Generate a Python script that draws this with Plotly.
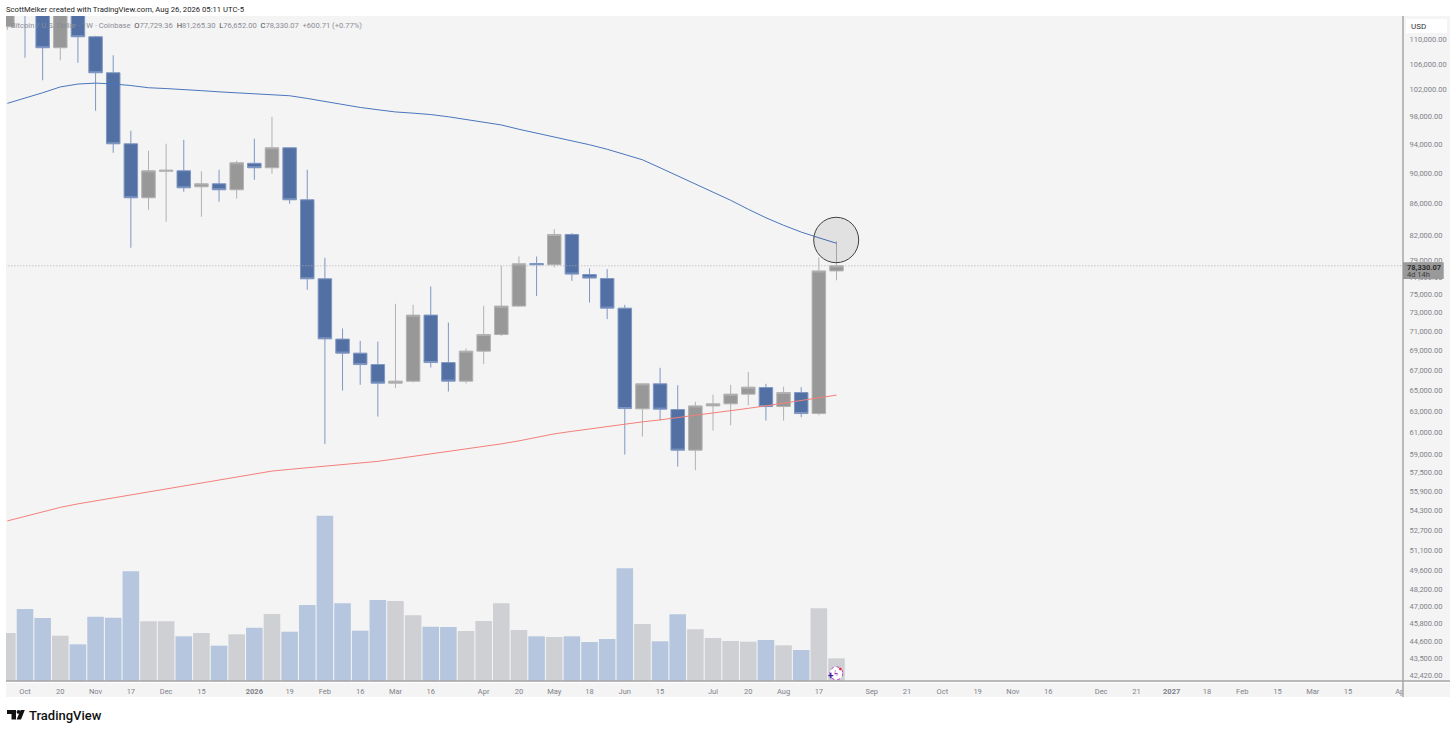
import pandas as pd
import plotly.graph_objects as go

# weekly bars, first one is the cut off candle at the left edge
dates = pd.date_range("2025-09-29", periods=48, freq="7D")

opens = [112081, 116711, 116711, 108607, 116000, 110413, 104612, 94044, 86736, 90250, 90317, 88179, 88575, 87783,
         91337, 90724, 93486, 86477, 76818, 70177, 68718, 67553, 65696, 65894, 72747, 67757, 65894, 68925, 70662,
         73735, 78600, 78447, 82094, 77315, 76853, 73514, 63213, 65628, 63146, 59418, 63494, 63689, 64622, 65263,
         63431, 64775, 62769, 77729.36]
highs = [114974, 116711, 116711, 116711, 116711, 110578, 107392, 95899, 93067, 94044, 94614, 90250, 90452, 91687,
         94756, 97933, 93486, 90452, 79276, 71300, 69997, 69917, 73990, 73880, 75934, 71944, 69194, 73766, 78330,
         79434, 79434, 82761, 82266, 78014, 77944, 73880, 65628, 67220, 65491, 63880, 64584, 65529, 66819, 65628,
         65354, 65301, 79315, 81265.30]
lows = [111577, 106990, 103442, 106591, 106191, 98819, 92787, 80473, 85190, 83671, 87520, 84301, 86218, 86607,
        89109, 89912, 85960, 75559, 59982, 64972, 65529, 62488, 65206, 65766, 67251, 64874, 65657, 67619, 70511,
        73700, 74849, 78131, 76588, 74134, 72312, 59028, 60642, 62114, 57975, 57666, 61190, 61687, 63561, 62114,
        62114, 62425, 62613, 76652.00]
closes = [114974, 115320, 108607, 116000, 110413, 104612, 94044, 86736, 90317, 90385, 88046, 88575, 87783, 91407,
          90724, 93486, 86477, 76818, 70205, 68718, 67553, 65696, 65894, 72747, 67757, 65894, 68925, 70662, 73735,
          78565, 78447, 82094, 77361, 76899, 73514, 63241, 65628, 63184, 59418, 63494, 63689, 64622, 65301, 63431,
          64775, 62769, 77729.36, 78330.07]

ma_blue = [99922, 100704, 101523, 102410, 102856, 102995, 102871, 102625, 102287, 102164, 102041, 101843, 101660,
           101493, 101310, 101219, 101068, 100659, 100222, 99682, 99310, 98968, 98643, 98465, 98258, 97934, 97568,
           97204, 96738, 96116, 95570, 95042, 94516, 93909, 93278, 92579, 91819, 90724, 89643, 88575, 87520, 86412,
           85254, 84174, 83233, 82388, 81688, 81018]
ma_red = [53441, 53803, 54168, 54534, 54822, 55069, 55317, 55566, 55816, 56034, 56279, 56533, 56830, 57043, 57343,
          57584, 57732, 57862, 58009, 58122, 58253, 58428, 58648, 58868, 59090, 59311, 59490, 59713, 59982, 60252,
          60570, 60888, 61117, 61346, 61577, 61808, 61993, 62179, 62385, 62600, 62788, 63024, 63261, 63500, 63738,
          63976, 64264, 64525]

volume = [48, 72, 63, 45.3, 36.7, 64.3, 63.3, 109.7, 59.7, 59.7, 44.7, 48, 35.3, 46.7, 53.3, 67, 49.3, 76, 165.3,
          77.7, 50.3, 81, 80, 65.7, 54.3, 54, 50, 60, 77.7, 51, 44.7, 44, 44.7, 39, 42, 112.7, 57, 39.7, 66.7, 51.7,
          43, 40, 39.3, 41, 35.7, 31, 72.7, 22.7]
vol_down = [0, 1, 1, 0, 1, 1, 1, 1, 0, 0, 1, 0, 1, 0, 1, 0, 1, 1, 1, 1, 1, 1, 0, 0, 1, 1, 0, 0, 0, 0, 1, 0, 1, 1,
            1, 1, 0, 1, 1, 0, 0, 0, 0, 1, 0, 1, 0, 0]

price_ticks = [110000, 106000, 102000, 98000, 94000, 90000, 86000, 82000, 79000, 77000, 75000, 73000, 71000, 69000,
               67000, 65000, 63000, 61000, 59000, 57500, 55900, 54300, 52700, 51100, 49600, 48200, 47000, 45800,
               44600, 43500, 42420]
time_ticks = ["2025-10-06", "2025-10-20", "2025-11-03", "2025-11-17", "2025-12-01", "2025-12-15", "2026-01-05",
              "2026-01-19", "2026-02-02", "2026-02-16", "2026-03-02", "2026-03-16", "2026-04-06", "2026-04-20",
              "2026-05-04", "2026-05-18", "2026-06-01", "2026-06-15", "2026-07-06", "2026-07-20", "2026-08-03",
              "2026-08-17", "2026-09-07", "2026-09-21", "2026-10-05", "2026-10-19", "2026-11-02", "2026-11-16",
              "2026-12-07", "2026-12-21", "2027-01-04", "2027-01-18", "2027-02-01", "2027-02-15", "2027-03-01",
              "2027-03-15", "2027-04-05"]
time_labels = ["Oct", "20", "Nov", "17", "Dec", "15", "<b>2026</b>", "19", "Feb", "16", "Mar", "16", "Apr", "20",
               "May", "18", "Jun", "15", "Jul", "20", "Aug", "17", "Sep", "21", "Oct", "19", "Nov", "16", "Dec", "21",
               "<b>2027</b>", "18", "Feb", "15", "Mar", "15", "Apr"]

last_price = 78330.07

BG = "#f4f4f4"
BLUE = "#5270a4"
GREY = "#989898"
TICK = "#7f828a"
FONT = "Roboto"

# plot box in page pixels
L, R, T, B = 6, 1403, 16, 681


def px(x):
    return (x - L) / (R - L)


def py(y):
    return (B - y) / (B - T)


def rect(x0, y0, x1, y1, color, layer="above"):
    return dict(type="rect", xref="paper", yref="paper", x0=px(x0), x1=px(x1), y0=py(y0), y1=py(y1),
                fillcolor=color, line_width=0, layer=layer)


def seg(x0, y0, x1, y1, color, w=1.5):
    return dict(type="line", xref="paper", yref="paper", x0=px(x0), x1=px(x1), y0=py(y0), y1=py(y1),
                line=dict(color=color, width=w), layer="above")


def note(x, y, text, size=8, color="#555", anchor="left", weight=None):
    return dict(xref="paper", yref="paper", x=px(x), y=py(y), text=text, showarrow=False, xanchor=anchor,
                yanchor="middle", font=dict(family=FONT, size=size, color=color, weight=weight),
                borderpad=0, borderwidth=0)


fig = go.Figure()

fig.add_trace(go.Bar(x=dates, y=volume, yaxis="y",
                     marker=dict(color=["#b6c6df" if d else "#cfd0d4" for d in vol_down], line_width=0)))

fig.add_trace(go.Candlestick(x=dates, open=opens, high=highs, low=lows, close=closes, yaxis="y2",
                             whiskerwidth=0,
                             increasing=dict(fillcolor=GREY, line=dict(color="#b2b2b2", width=1)),
                             decreasing=dict(fillcolor=BLUE, line=dict(color="#7f97c2", width=1))))

fig.add_trace(go.Scatter(x=dates, y=ma_blue, yaxis="y2", mode="lines", line=dict(color="#4a76bd", width=1)))
fig.add_trace(go.Scatter(x=dates, y=ma_red, yaxis="y2", mode="lines", line=dict(color="#f47f7a", width=1)))
fig.add_trace(go.Scatter(x=[dates[0] - pd.Timedelta(days=2), "2027-04-06"], y=[last_price, last_price], yaxis="y2",
                         mode="lines", line=dict(color="#b0b0b0", width=1, dash="1px,2px")))

shapes = [
    rect(L, T, 1450, 697, BG, layer="below"),
    # panel over the axis label that runs into the price scale
    rect(1403, 682, 1450, 697, BG),
    seg(L, 681, 1450, 681, "#a6a6a6"),
    seg(L, 682.6, 1450, 682.6, "#ffffff", 1),
    seg(1403, T, 1403, 697, "#a6a6a6"),
    rect(1403, 262.3, 1443.7, 279, "#999999"),
    dict(type="rect", xref="paper", yref="paper", x0=px(1406), x1=px(1447), y0=py(19), y1=py(33),
         fillcolor="#ffffff", line_width=0, layer="above"),
    # marked circle on the moving average
    dict(type="circle", xref="paper", yref="paper", x0=px(813.7), x1=px(858.7), y0=py(217.3), y1=py(262.7),
         fillcolor="rgba(0,0,0,0.075)", line=dict(color="#3f3f3f", width=1), layer="above"),
    # little flash icon on the volume
    dict(type="circle", xref="paper", yref="paper", x0=px(829.8), x1=px(842.8), y0=py(666.8), y1=py(679.8),
         fillcolor="#ffffff", line=dict(color="#b43ac4", width=1, dash="dot"), layer="above"),
    dict(type="circle", xref="paper", yref="paper", x0=px(839), x1=px(841.6), y0=py(667.7), y1=py(670.3),
         fillcolor="#f02020", line_width=0, layer="above"),
    # TradingView logo
    rect(7, 710, 16, 714, "#111111"),
    rect(11.5, 710, 16, 719.5, "#111111"),
    dict(type="circle", xref="paper", yref="paper", x0=px(16.6), x1=px(20.4), y0=py(710), y1=py(713.8),
         fillcolor="#111111", line_width=0, layer="above"),
    dict(type="path", xref="paper", yref="paper", layer="above", fillcolor="#111111", line_width=0,
         path=f"M {px(20.6)} {py(710)} L {px(24.8)} {py(710)} L {px(21)} {py(719.5)} L {px(16.6)} {py(719.5)} Z"),
]

legend_grey = "#8a8d95"
legend_dark = "#4a4a4a"
legend = (f"<span style='color:{legend_grey}'>Bitcoin / U.S. Dollar · 1W · Coinbase  </span>"
          f"<span style='color:{legend_dark}'>O</span><span style='color:{legend_grey}'>77,729.36  </span>"
          f"<span style='color:{legend_dark}'>H</span><span style='color:{legend_grey}'>81,265.30  </span>"
          f"<span style='color:{legend_dark}'>L</span><span style='color:{legend_grey}'>76,652.00  </span>"
          f"<span style='color:{legend_dark}'>C</span><span style='color:{legend_grey}'>78,330.07  +600.71 (+0.77%)</span>")

annotations = [
    note(6, 9.5, "ScottMelker created with TradingView.com, Aug 26, 2026 05:11 UTC-5", size=7.7, color="#222222"),
    note(11, 25.5, legend, size=7.6),
    note(1411, 26, "USD", size=8, color="#333333"),
    note(1407, 267.3, "<b>78,330.07</b>", size=7.5, color="#2c2c2c"),
    note(1407, 274.5, "4d 14h", size=7.5, color="#3c3c3c"),
    note(833.5, 675, "+", size=10, color="#3a1d9c", anchor="right", weight=700),
    note(836.3, 673.3, "ϟ", size=9, color="#b43ac4", anchor="center", weight=700),
    note(29, 715, "TradingView", size=13, color="#111111", weight=500),
]

fig.update_layout(
    width=1456, height=733,
    margin=dict(l=L, r=1456 - R, t=T, b=733 - B),
    paper_bgcolor="#ffffff", plot_bgcolor=BG,
    showlegend=False, bargap=0.06, boxgap=0.235, boxgroupgap=0,
    font=dict(family=FONT, size=8, color=TICK),
    xaxis=dict(type="date", range=["2025-09-28 11:00", "2027-04-05 19:00"], showgrid=False, zeroline=False,
               rangeslider=dict(visible=False), tickmode="array", tickvals=time_ticks, ticktext=time_labels,
               ticks="outside", ticklen=3, tickcolor="rgba(0,0,0,0)", tickangle=0,
               tickfont=dict(family=FONT, size=7.5, color=TICK)),
    yaxis=dict(range=[0, 665], visible=False, showgrid=False, zeroline=False, fixedrange=True),
    yaxis2=dict(type="log", overlaying="y", side="right", anchor="x", range=[4.62366, 5.05652], showgrid=False,
                zeroline=False, tickmode="array", tickvals=price_ticks,
                ticktext=[f"{v:,.2f}" for v in price_ticks], ticks="outside", ticklen=4,
                tickcolor="rgba(0,0,0,0)", tickfont=dict(family=FONT, size=7.5, color=TICK)),
    shapes=shapes, annotations=annotations,
)

# the page has a default body margin that shifts everything by 8px
fig.write_html("out.html", config={"displayModeBar": False}, post_script="document.body.style.margin='0';")
